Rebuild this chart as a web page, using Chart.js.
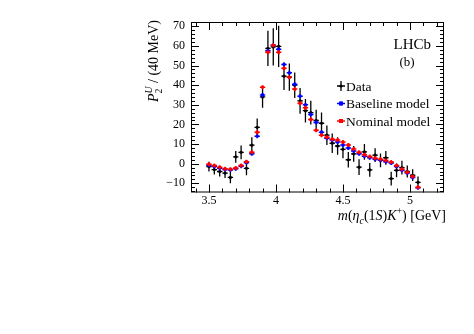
<!DOCTYPE html>
<html>
<head>
<meta charset="utf-8">
<script src="https://cdn.jsdelivr.net/npm/chart.js@4.4.1/dist/chart.umd.min.js"></script>
<style>
  html, body { margin: 0; padding: 0; background: #ffffff; }
  canvas { display: block; }
</style>
</head>
<body>
<canvas id="c" width="474" height="334"></canvas>
<script>
// Bin centres of m(eta_c(1S) K+) in GeV, 40 MeV wide bins
const massBins = [3.50, 3.54, 3.58, 3.62, 3.66, 3.70, 3.74, 3.78, 3.82, 3.86,
                  3.90, 3.94, 3.98, 4.02, 4.06, 4.10, 4.14, 4.18, 4.22, 4.26,
                  4.30, 4.34, 4.38, 4.42, 4.46, 4.50, 4.54, 4.58, 4.62, 4.66,
                  4.70, 4.74, 4.78, 4.82, 4.86, 4.90, 4.94, 4.98, 5.02, 5.06];
const binHalfWidth = 0.02;

// Legendre moment P2 (unnormalised) per bin
const dataValues = [-1.5, -3.0, -4.0, -4.8, -7.0, 3.5, 5.8, -2.4, 9.4, 18.5,
                    34.0, 58.8, 59.5, 59.8, 44.6, 44.1, 40.0, 32.0, 27.0, 26.0,
                    22.0, 20.6, 14.5, 10.4, 9.0, 7.3, 2.0, 5.0, -1.8, 6.0,
                    -3.2, 4.3, 1.7, 3.0, -7.6, -3.4, -2.0, -4.0, -5.9, -9.5];
const dataErrors = [2.5, 2.5, 2.5, 2.5, 3.0, 3.0, 3.5, 3.5, 4.0, 4.5,
                    5.5, 9.0, 9.5, 10.5, 7.0, 7.0, 6.5, 6.5, 6.0, 6.0,
                    5.5, 5.5, 5.0, 5.0, 4.5, 4.5, 4.0, 4.0, 4.0, 4.0,
                    3.5, 3.5, 3.5, 3.5, 3.5, 3.5, 3.5, 3.0, 3.0, 3.0];
const baselineValues = [-0.8, -1.5, -2.3, -3.0, -3.2, -2.6, -1.3, 0.5, 5.0, 14.0,
                        35.0, 57.5, 60.3, 58.3, 50.6, 46.3, 40.5, 34.4, 30.0, 25.0,
                        21.0, 16.0, 13.0, 12.0, 11.0, 9.5, 8.0, 6.5, 5.0, 3.8,
                        3.0, 2.2, 1.8, 1.0, 0.3, -1.5, -3.4, -4.8, -7.0, -12.3];
const nominalValues = [-0.3, -1.0, -1.8, -2.6, -2.8, -2.2, -0.9, 1.0, 5.8, 16.0,
                       39.0, 56.8, 60.3, 56.8, 48.6, 44.0, 38.0, 30.8, 28.5, 22.5,
                       17.0, 14.5, 13.5, 12.5, 12.0, 11.0, 9.5, 7.5, 5.8, 4.6,
                       3.6, 2.8, 2.3, 1.6, 0.8, -1.0, -2.8, -4.4, -6.5, -12.0];

const xTicks = [3.5, 4, 4.5, 5];
const yTicks = [-10, 0, 10, 20, 30, 40, 50, 60, 70];
const legendLabels = ['Data', 'Baseline model', 'Nominal model'];

const SERIF = '"Liberation Serif", "DejaVu Serif", serif';

function points(values) {
  return values.map((v, i) => ({ x: massBins[i], y: v }));
}

// Draws a run of text pieces (italic / sub / superscript).
// A piece flagged "stackWith" shares its horizontal slot with the next piece.
function richText(ctx, parts, x, y, size, align) {
  const font = (p) => (p.italic ? 'italic ' : '') + (size * (p.scale || 1)) + 'px ' + SERIF;
  const widths = parts.map(p => { ctx.font = font(p); return ctx.measureText(p.t).width; });
  let total = 0;
  parts.forEach((p, i) => {
    if (p.stack) return;
    total += p.stackWith ? Math.max(widths[i], widths[i + 1]) : widths[i];
  });
  let cx = align === 'right' ? x - total : x;
  let slotStart = cx;
  ctx.textAlign = 'left';
  parts.forEach((p, i) => {
    ctx.font = font(p);
    if (p.stackWith) {
      slotStart = cx;
      ctx.fillText(p.t, cx, y + (p.dy || 0) * size);
      cx += Math.max(widths[i], widths[i + 1]);
    } else if (p.stack) {
      ctx.fillText(p.t, slotStart, y + (p.dy || 0) * size);
    } else {
      ctx.fillText(p.t, cx, y + (p.dy || 0) * size);
      cx += widths[i];
    }
  });
}

const errorBarPlugin = {
  id: 'errorBars',
  beforeDatasetDraw(chart, args) {
    const ds = chart.data.datasets[args.index];
    const xs = chart.scales.x, ys = chart.scales.y;
    const c = chart.ctx;
    c.save();
    c.beginPath();
    c.rect(chart.chartArea.left, chart.chartArea.top, chart.chartArea.width, chart.chartArea.height);
    c.clip();
    c.strokeStyle = ds.borderColor;
    c.lineWidth = ds.barLineWidth;
    ds.data.forEach((p, i) => {
      const px = xs.getPixelForValue(p.x);
      const py = ys.getPixelForValue(p.y);
      c.beginPath();
      c.moveTo(xs.getPixelForValue(p.x - binHalfWidth), py);
      c.lineTo(xs.getPixelForValue(p.x + binHalfWidth), py);
      if (ds.yErrors) {
        c.moveTo(px, ys.getPixelForValue(p.y - ds.yErrors[i]));
        c.lineTo(px, ys.getPixelForValue(p.y + ds.yErrors[i]));
      } else {
        c.moveTo(px, py - 2);
        c.lineTo(px, py + 2);
      }
      c.stroke();
    });
    c.restore();
  }
};

const framePlugin = {
  id: 'frame',
  afterDraw(chart) {
    const c = chart.ctx;
    const a = chart.chartArea;
    const xs = chart.scales.x, ys = chart.scales.y;
    c.save();
    c.strokeStyle = '#000';
    c.lineWidth = 1;
    c.strokeRect(a.left + 0.5, a.top + 0.5, a.width - 1, a.height - 1);

    // tick marks inside the frame on all four sides
    c.beginPath();
    for (let v = 3.4; v <= 5.25 + 1e-9; v += 0.1) {
      const vv = Math.round(v * 10) / 10;
      const major = Math.abs(vv * 2 - Math.round(vv * 2)) < 1e-6;
      const len = major ? 8 : 4;
      const px = Math.round(xs.getPixelForValue(vv)) + 0.5;
      if (px < a.left || px > a.right) continue;
      c.moveTo(px, a.bottom); c.lineTo(px, a.bottom - len);
      c.moveTo(px, a.top); c.lineTo(px, a.top + len);
    }
    for (let v = -14; v <= 72; v += 2) {
      const major = v % 10 === 0;
      const len = major ? 8 : 4;
      const py = Math.round(ys.getPixelForValue(v)) + 0.5;
      if (py < a.top || py > a.bottom) continue;
      c.moveTo(a.left, py); c.lineTo(a.left + len, py);
      c.moveTo(a.right, py); c.lineTo(a.right - len, py);
    }
    c.stroke();

    c.fillStyle = '#000';
    c.textBaseline = 'alphabetic';

    // x-axis title
    richText(c, [
      { t: 'm', italic: true },
      { t: '(' },
      { t: '\u03B7', italic: true },
      { t: 'c', italic: true, scale: 0.7, dy: 0.28 },
      { t: '(1' },
      { t: 'S', italic: true },
      { t: ')' },
      { t: 'K', italic: true },
      { t: '+', scale: 0.7, dy: -0.42 },
      { t: ') [GeV]' }
    ], 446, 220, 14, 'right');

    // y-axis title, rotated
    c.save();
    c.translate(158, 20);
    c.rotate(-Math.PI / 2);
    richText(c, [
      { t: 'P', italic: true },
      { t: '2', scale: 0.7, dy: 0.3, stackWith: true },
      { t: 'U', italic: true, scale: 0.7, dy: -0.45, stack: true },
      { t: ' / (40 MeV)' }
    ], 0, 0, 14, 'right');
    c.restore();

    // experiment label
    c.font = '15px ' + SERIF;
    c.textAlign = 'right';
    c.fillText('LHCb', 431, 49);
    c.font = '13px ' + SERIF;
    c.textAlign = 'center';
    c.fillText('(b)', 407, 66);

    // legend
    const rows = [86, 103.5, 121];
    const colours = ['#000000', '#0000ff', '#ff0000'];
    c.textAlign = 'left';
    c.textBaseline = 'middle';
    c.font = '13.5px ' + SERIF;
    rows.forEach((ry, i) => {
      const mx = 341;
      c.strokeStyle = colours[i];
      c.fillStyle = colours[i];
      c.lineWidth = i === 0 ? 1.3 : 1.5;
      c.beginPath();
      c.moveTo(mx - 4, ry); c.lineTo(mx + 4, ry);
      if (i === 0) { c.moveTo(mx, ry - 5); c.lineTo(mx, ry + 5); }
      else { c.moveTo(mx, ry - 2); c.lineTo(mx, ry + 2); }
      c.stroke();
      if (i === 0) { c.beginPath(); c.arc(mx, ry, 1.6, 0, Math.PI * 2); c.fill(); }
      else c.fillRect(mx - 2, ry - 2, 4, 4);
      c.fillStyle = '#000';
      c.fillText(legendLabels[i], 346, ry + 1);
    });
    c.restore();
  }
};

const tickFont = { family: SERIF, size: 12 };

new Chart(document.getElementById('c').getContext('2d'), {
  type: 'scatter',
  data: {
    datasets: [
      { label: legendLabels[2], data: points(nominalValues), order: 0,
        backgroundColor: '#ff0000', borderColor: '#ff0000', pointStyle: 'rect',
        pointRadius: 2, pointBorderWidth: 0, barLineWidth: 1.5 },
      { label: legendLabels[1], data: points(baselineValues), order: 1,
        backgroundColor: '#0000ff', borderColor: '#0000ff', pointStyle: 'rect',
        pointRadius: 2, pointBorderWidth: 0, barLineWidth: 1.5 },
      { label: legendLabels[0], data: points(dataValues), order: 2, yErrors: dataErrors,
        backgroundColor: '#000000', borderColor: '#000000', pointStyle: 'circle',
        pointRadius: 1.6, pointBorderWidth: 0, barLineWidth: 1.3 }
    ]
  },
  options: {
    responsive: false,
    animation: false,
    devicePixelRatio: 1,
    layout: { padding: { left: 0, right: 30, top: 22, bottom: 0 } },
    plugins: { legend: { display: false }, tooltip: { enabled: false } },
    scales: {
      x: {
        type: 'linear', min: 3.366, max: 5.254,
        grid: { display: false, drawTicks: false },
        border: { display: false },
        afterFit(s) { s.height = 141.5; },
        afterBuildTicks(s) { s.ticks = xTicks.map(v => ({ value: v })); },
        ticks: { padding: 1, color: '#000', font: tickFont, maxRotation: 0, autoSkip: false,
                 callback: v => String(v) }
      },
      y: {
        type: 'linear', min: -14.7, max: 72.2,
        grid: { display: false, drawTicks: false },
        border: { display: false },
        afterFit(s) { s.width = 191; },
        afterBuildTicks(s) { s.ticks = yTicks.map(v => ({ value: v })); },
        ticks: { padding: 6, color: '#000', font: tickFont, autoSkip: false,
                 callback: v => (v < 0 ? '\u2212' + Math.abs(v) : String(v)) }
      }
    }
  },
  plugins: [errorBarPlugin, framePlugin]
});
</script>
</body>
</html>
